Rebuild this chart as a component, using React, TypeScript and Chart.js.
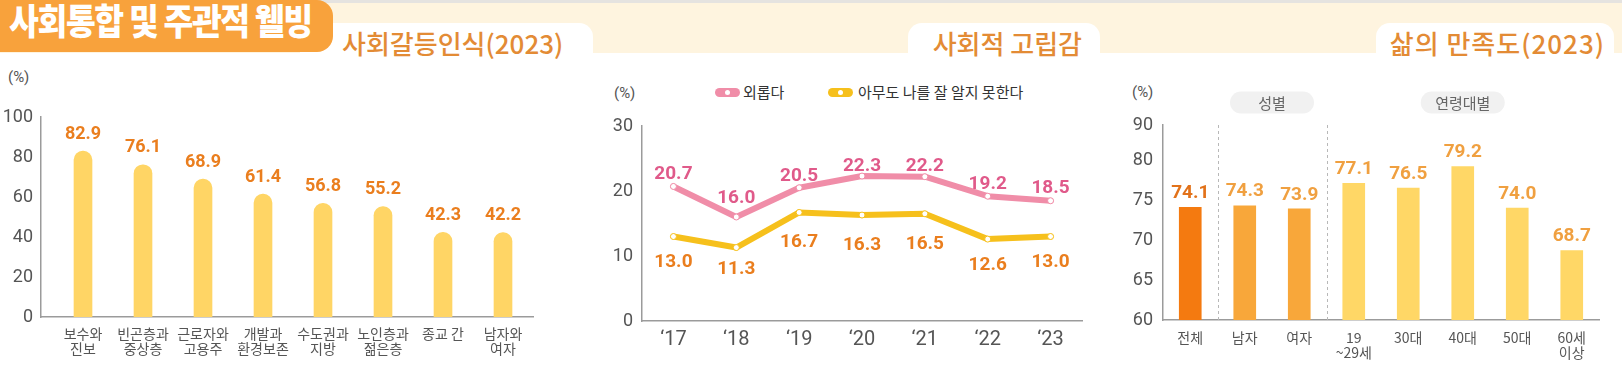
import React, { useEffect, useRef } from "react";
import { Chart, registerables } from "chart.js";

Chart.register(...registerables);

// ---------- data ----------
const conflictCategories: (string | string[])[] = [
  ["보수와", "진보"],
  ["빈곤층과", "중상층"],
  ["근로자와", "고용주"],
  ["개발과", "환경보존"],
  ["수도권과", "지방"],
  ["노인층과", "젊은층"],
  "종교 간",
  ["남자와", "여자"],
];
const conflictValues = [82.9, 76.1, 68.9, 61.4, 56.8, 55.2, 42.3, 42.2];
const conflictTicks = [0, 20, 40, 60, 80, 100];

const isolationYears = ["‘17", "‘18", "‘19", "‘20", "‘21", "‘22", "‘23"];
const lonelyValues = [20.7, 16.0, 20.5, 22.3, 22.2, 19.2, 18.5];
const nobodyKnowsValues = [13.0, 11.3, 16.7, 16.3, 16.5, 12.6, 13.0];
const isolationSeries = ["외롭다", "아무도 나를 잘 알지 못한다"];
const isolationTicks = [0, 10, 20, 30];

const satisfactionCategories: (string | string[])[] = [
  "전체",
  "남자",
  "여자",
  ["19", "~29세"],
  "30대",
  "40대",
  "50대",
  ["60세", "이상"],
];
const satisfactionValues = [74.1, 74.3, 73.9, 77.1, 76.5, 79.2, 74.0, 68.7];
const satisfactionTickValues = [60, 65, 70, 75, 80, 84.4];
const satisfactionTickLabels = ["60", "65", "70", "75", "80", "90"];
const satisfactionGroups = [
  { label: "성별", from: 1, to: 2 },
  { label: "연령대별", from: 3, to: 7 },
];

// ---------- styles ----------
const KR = "'Noto Sans CJK KR', 'Noto Sans', sans-serif";
const NUM = "'Liberation Sans Narrow', Roboto, 'Noto Sans', sans-serif";
const BOLD = "Roboto, 'Noto Sans', sans-serif";
const AXIS = "#9b9b9b";
const TICK = "#555555";

const PINK = "#F08DA8";
const PINK_TEXT = "#E05A8A";
const YELLOW = "#F6C01C";
const ORANGE_TEXT = "#EA7E1E";

const satisfactionColors = ["#F47A10", "#F8A73A", "#F8A73A", "#FFD766", "#FFD766", "#FFD766", "#FFD766", "#FFD766"];
const satisfactionTextColors = ["#E2721A", "#F0A040", "#F0A040", "#F0A040", "#F0A040", "#F0A040", "#F0A040", "#F0A040"];

// label placement (pixels above the mark; negative = below)
const lonelyLabelOffsets = [12, 19, 12, 10, 10, 12, 13];
const nobodyLabelOffsets = [-26, -22, -30, -30, -30, -26, -26];

type LabelSpec = { color: string | string[]; offset: number | number[]; font: string };

function valueLabels(id: string, specs: LabelSpec[]) {
  return {
    id,
    afterDatasetsDraw(chart: any) {
      const ctx = chart.ctx;
      chart.data.datasets.forEach((ds: any, di: number) => {
        const meta = chart.getDatasetMeta(di);
        const spec = specs[di];
        ctx.save();
        ctx.font = spec.font;
        ctx.textAlign = "center";
        ctx.textBaseline = "middle";
        meta.data.forEach((el: any, i: number) => {
          const raw = ds.data[i];
          const v = typeof raw === "object" ? raw.y : raw;
          const off = Array.isArray(spec.offset) ? spec.offset[i] : spec.offset;
          ctx.fillStyle = Array.isArray(spec.color) ? spec.color[i] : spec.color;
          ctx.fillText(Number(v).toFixed(1), el.x, el.y - off);
        });
        ctx.restore();
      });
    },
  };
}

const setTicks = (values: number[]) => (scale: any) => {
  scale.ticks = values.map((v) => ({ value: v }));
};

const hiddenGrid = { display: false, drawTicks: false };
const axisBorder = { display: true, color: AXIS, width: 1.5 };

const groupPlugin = {
  id: "groups",
  beforeDatasetsDraw(chart: any) {
    const x = chart.scales.x;
    const area = chart.chartArea;
    const ctx = chart.ctx;
    ctx.save();
    ctx.strokeStyle = "#b8b8b8";
    ctx.lineWidth = 1;
    ctx.setLineDash([3, 3]);
    satisfactionGroups.forEach((g) => {
      const xs = Math.round((x.getPixelForValue(g.from - 1) + x.getPixelForValue(g.from)) / 2) + 0.5;
      ctx.beginPath();
      ctx.moveTo(xs, area.top);
      ctx.lineTo(xs, area.bottom);
      ctx.stroke();
    });
    ctx.setLineDash([]);
    satisfactionGroups.forEach((g) => {
      const cx = (x.getPixelForValue(g.from) + x.getPixelForValue(g.to)) / 2;
      const cy = area.top - 22.5;
      const w = 84;
      const h = 22;
      ctx.fillStyle = "#F1F1F1";
      ctx.beginPath();
      (ctx as any).roundRect(cx - w / 2, cy - h / 2, w, h, h / 2);
      ctx.fill();
      ctx.fillStyle = "#666";
      ctx.font = `15px ${KR}`;
      ctx.textAlign = "center";
      ctx.textBaseline = "middle";
      ctx.fillText(g.label, cx, cy + 1);
    });
    ctx.restore();
  },
};

function makeConflictConfig(): any {
  return {
    type: "bar",
    data: {
      datasets: [
        {
          data: conflictValues.map((v, i) => ({ x: i, y: v })),
          backgroundColor: "#FFD565",
          barThickness: 18,
          borderRadius: { topLeft: 9, topRight: 9, bottomLeft: 0, bottomRight: 0 },
          borderSkipped: false,
        },
      ],
    },
    options: {
      responsive: false,
      animation: false,
      events: [],
      layout: { padding: { top: 57, right: 67, left: 0, bottom: 0 } },
      plugins: { legend: { display: false }, tooltip: { enabled: false } },
      scales: {
        x: {
          type: "linear",
          min: -0.7,
          max: 7.5,
          offset: false,
          afterBuildTicks: setTicks(conflictCategories.map((_c, i) => i)),
          grid: hiddenGrid,
          border: axisBorder,
          ticks: {
            padding: 9.5,
            color: TICK,
            autoSkip: false,
            maxRotation: 0,
            font: { family: KR, size: 14, lineHeight: 1.07 },
            callback: (v: any) => conflictCategories[Math.round(Number(v))],
          },
          afterFit: (s: any) => {
            s.height = 54;
          },
        },
        y: {
          min: 0,
          max: 100,
          afterBuildTicks: setTicks(conflictTicks),
          grid: hiddenGrid,
          border: axisBorder,
          ticks: { padding: 8, color: TICK, font: { family: NUM, size: 18 } },
          afterFit: (s: any) => {
            s.width = 41;
          },
        },
      },
    },
    plugins: [valueLabels("conflictLabels", [{ color: ORANGE_TEXT, offset: 17, font: `700 18px ${BOLD}` }])],
  };
}

function makeIsolationConfig(): any {
  const line = (data: number[], color: string) => ({
    data,
    borderColor: color,
    backgroundColor: color,
    borderWidth: 6,
    borderJoinStyle: "round",
    borderCapStyle: "round",
    tension: 0,
    pointRadius: 3,
    pointBorderWidth: 1,
    pointBackgroundColor: "#ffffff",
    pointBorderColor: color,
  });
  return {
    type: "line",
    data: {
      labels: isolationYears,
      datasets: [
        { label: isolationSeries[0], ...line(lonelyValues, PINK) },
        { label: isolationSeries[1], ...line(nobodyKnowsValues, YELLOW) },
      ],
    },
    options: {
      responsive: false,
      animation: false,
      events: [],
      layout: { padding: { top: 66, right: 28, left: 0, bottom: 0 } },
      plugins: { legend: { display: false }, tooltip: { enabled: false } },
      scales: {
        x: {
          offset: true,
          grid: hiddenGrid,
          border: axisBorder,
          ticks: { padding: 8, color: TICK, autoSkip: false, maxRotation: 0, font: { family: NUM, size: 20, lineHeight: 1.1 } },
          afterFit: (s: any) => {
            s.height = 50;
          },
        },
        y: {
          min: 0,
          max: 30,
          afterBuildTicks: setTicks(isolationTicks),
          grid: hiddenGrid,
          border: axisBorder,
          ticks: { padding: 9, color: TICK, font: { family: NUM, size: 18 } },
          afterFit: (s: any) => {
            s.width = 42;
          },
        },
      },
    },
    plugins: [
      valueLabels("isolationLabels", [
        { color: PINK_TEXT, offset: lonelyLabelOffsets, font: `700 19px ${BOLD}` },
        { color: ORANGE_TEXT, offset: nobodyLabelOffsets, font: `700 19px ${BOLD}` },
      ]),
    ],
  };
}

function makeSatisfactionConfig(): any {
  return {
    type: "bar",
    data: {
      labels: satisfactionCategories,
      datasets: [
        {
          data: satisfactionValues,
          backgroundColor: satisfactionColors,
          barThickness: 22,
          borderSkipped: "start",
        },
      ],
    },
    options: {
      responsive: false,
      animation: false,
      events: [],
      layout: { padding: { top: 65, right: 23, left: 0, bottom: 0 } },
      plugins: { legend: { display: false }, tooltip: { enabled: false } },
      scales: {
        x: {
          grid: hiddenGrid,
          border: axisBorder,
          ticks: { padding: 10.5, color: TICK, autoSkip: false, maxRotation: 0, font: { family: KR, size: 14, lineHeight: 1.07 } },
          afterFit: (s: any) => {
            s.height = 51;
          },
        },
        y: {
          min: 60,
          max: 84.4,
          afterBuildTicks: setTicks(satisfactionTickValues),
          grid: hiddenGrid,
          border: axisBorder,
          ticks: {
            padding: 10,
            color: TICK,
            font: { family: NUM, size: 18 },
            callback: (_v: any, i: number) => satisfactionTickLabels[i],
          },
          afterFit: (s: any) => {
            s.width = 53;
          },
        },
      },
    },
    plugins: [groupPlugin, valueLabels("satLabels", [{ color: satisfactionTextColors, offset: 14, font: `700 19px ${BOLD}` }])],
  };
}

const abs = (s: React.CSSProperties): React.CSSProperties => ({ position: "absolute", ...s });

function LegendPill({ left, color }: { left: number; color: string }) {
  return (
    <div style={abs({ left, top: 88, width: 25, height: 9, borderRadius: 5, background: color })}>
      <div style={abs({ left: 10, top: 2, width: 5, height: 5, borderRadius: 3, background: "#fff" })} />
    </div>
  );
}

export default function App() {
  const c1 = useRef<HTMLCanvasElement>(null);
  const c2 = useRef<HTMLCanvasElement>(null);
  const c3 = useRef<HTMLCanvasElement>(null);

  useEffect(() => {
    const charts = [
      new Chart(c1.current as HTMLCanvasElement, makeConflictConfig()),
      new Chart(c2.current as HTMLCanvasElement, makeIsolationConfig()),
      new Chart(c3.current as HTMLCanvasElement, makeSatisfactionConfig()),
    ];
    return () => charts.forEach((c) => c.destroy());
  }, []);

  const titleStyle: React.CSSProperties = {
    position: "absolute",
    top: 27,
    fontFamily: KR,
    fontSize: 26,
    fontWeight: 500,
    lineHeight: "32px",
    color: "#E38B35",
    whiteSpace: "nowrap",
  };
  const pctStyle: React.CSSProperties = {
    position: "absolute",
    fontFamily: NUM,
    fontSize: 15,
    lineHeight: "18px",
    color: TICK,
  };

  return (
    <div style={{ position: "fixed", left: 0, top: 0, width: 1622, height: 371, background: "#fff", overflow: "hidden" }}>
      {/* background bands */}
      <div style={abs({ left: 0, top: 0, width: 1622, height: 3, background: "#E5E3E0" })} />
      <div style={abs({ left: 0, top: 3, width: 1622, height: 50, background: "#FEF4DF" })} />
      {/* white title tabs */}
      <div style={abs({ left: 300, top: 23, width: 293, height: 40, background: "#fff", borderRadius: "14px 14px 0 0" })} />
      <div style={abs({ left: 908, top: 23, width: 192, height: 40, background: "#fff", borderRadius: "14px 14px 0 0" })} />
      <div style={abs({ left: 1376, top: 23, width: 238, height: 40, background: "#fff", borderRadius: "14px 14px 0 0" })} />
      {/* main orange tab */}
      <div style={abs({ left: 0, top: 0, width: 333, height: 52, background: "#F8A23C", borderRadius: "0 16px 16px 0" })} />
      <div
        style={abs({
          left: 9,
          top: -1,
          fontFamily: KR,
          fontSize: 36,
          fontWeight: 900,
          lineHeight: "40px",
          letterSpacing: "-1.5px",
          color: "#fff",
          whiteSpace: "nowrap",
          transform: "scaleX(0.9)",
          transformOrigin: "left center",
        })}
      >
        사회통합 및 주관적 웰빙
      </div>
      {/* panel titles */}
      <div style={{ ...titleStyle, left: 342 }}>사회갈등인식(2023)</div>
      <div style={{ ...titleStyle, right: 1622 - 1082 }}>사회적 고립감</div>
      <div style={{ ...titleStyle, right: 1622 - 1605, letterSpacing: "1px" }}>삶의 만족도(2023)</div>

      {/* unit labels */}
      <div style={{ ...pctStyle, left: 8, top: 68 }}>(%)</div>
      <div style={{ ...pctStyle, left: 614, top: 84 }}>(%)</div>
      <div style={{ ...pctStyle, left: 1132, top: 83 }}>(%)</div>

      {/* legend for isolation chart */}
      <LegendPill left={715} color={PINK} />
      <div style={abs({ left: 743, top: 82, fontFamily: KR, fontSize: 15, lineHeight: "20px", color: "#333", whiteSpace: "nowrap" })}>
        {isolationSeries[0]}
      </div>
      <LegendPill left={828} color={YELLOW} />
      <div style={abs({ left: 858, top: 82, fontFamily: KR, fontSize: 15, lineHeight: "20px", color: "#333", whiteSpace: "nowrap" })}>
        {isolationSeries[1]}
      </div>

      {/* charts */}
      <canvas ref={c1} width={600} height={311} style={abs({ left: 0, top: 60, width: 600, height: 311 })} />
      <canvas ref={c2} width={510} height={311} style={abs({ left: 600, top: 60, width: 510, height: 311 })} />
      <canvas ref={c3} width={512} height={311} style={abs({ left: 1110, top: 60, width: 512, height: 311 })} />
    </div>
  );
}
